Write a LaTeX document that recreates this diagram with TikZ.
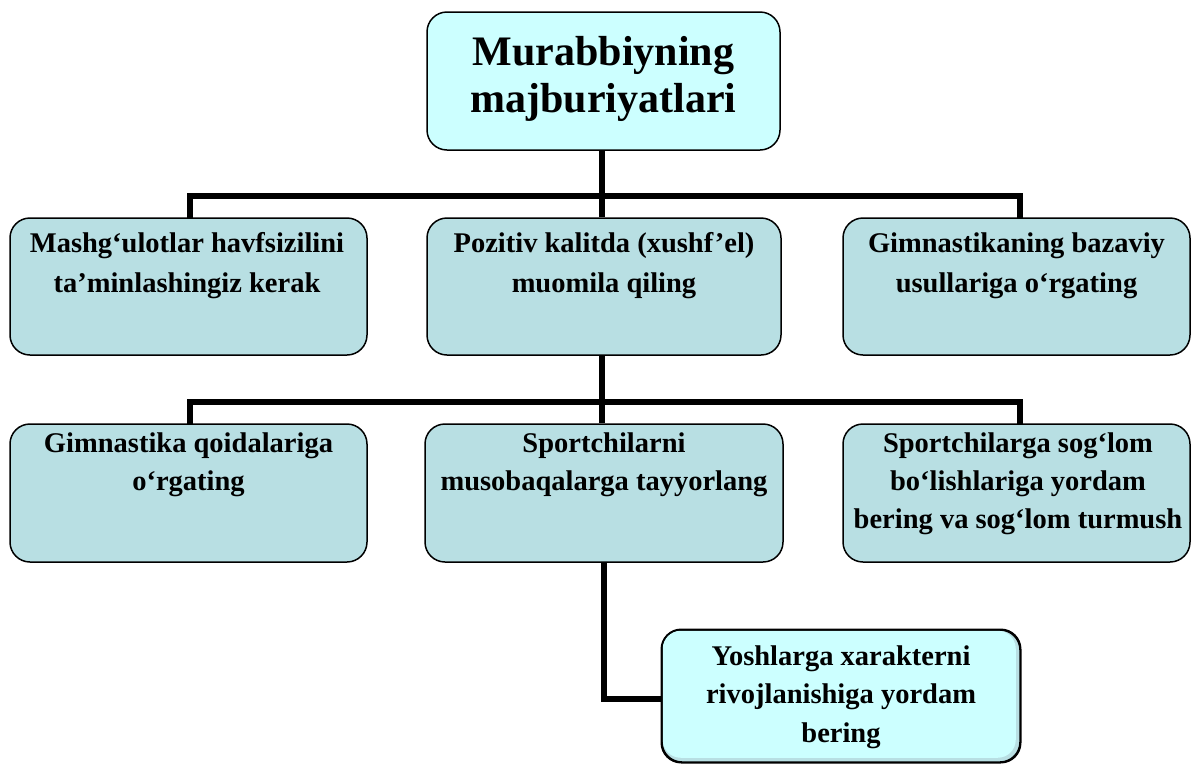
\documentclass[tikz,border=0pt]{standalone}
\usepackage{fontspec}
\setmainfont{Liberation Serif}
\definecolor{topcyan}{HTML}{CCFFFF}
\definecolor{boxblue}{HTML}{B8DFE3}
\begin{document}
\begin{tikzpicture}[x=1pt,y=-1pt,
  box/.style={draw=black, line width=1.5pt, rounded corners=20pt, inner sep=0pt},
  conn/.style={line width=6pt, line join=miter},
  txt/.style={anchor=base, align=center, inner sep=0pt, font=\bfseries\fontsize{28.5}{40}\selectfont}]
\useasboundingbox (0,0) rectangle (1192,764);
% boxes
\node[box, fill=topcyan, minimum width=353pt, minimum height=138pt] (top) at (603.5,81) {};
\node[box, fill=boxblue, minimum width=357pt, minimum height=137pt] (r1a) at (188.5,286.5) {};
\node[box, fill=boxblue, minimum width=354pt, minimum height=137pt] (r1b) at (604,286.5) {};
\node[box, fill=boxblue, minimum width=347pt, minimum height=137pt] (r1c) at (1016.5,286.5) {};
\node[box, fill=boxblue, minimum width=357pt, minimum height=138pt] (r2a) at (188.5,493) {};
\node[box, fill=boxblue, minimum width=358pt, minimum height=138pt] (r2b) at (604,493) {};
\node[box, fill=boxblue, minimum width=347pt, minimum height=138pt] (r2c) at (1016.5,493) {};
\node[box, fill=boxblue, minimum width=358pt, minimum height=132pt] (b4) at (841,696) {};
\fill[topcyan, rounded corners=18pt] ([shift={(1.5,1.5)}]b4.north west) rectangle ([shift={(-5,-5)}]b4.south east);
\draw[line width=1.5pt, rounded corners=20pt] (b4.north west) rectangle (b4.south east);
% connectors
\coordinate (bus1) at (602,196);
\coordinate (bus2) at (602,402);
\coordinate (bend) at (604,699);
\draw[conn] (top.south -| bus1) -- (r1b.north -| bus1);
\draw[conn] (190,218) |- (bus1) -| (1020,218);
\draw[conn] (r1b.south -| bus2) -- (r2b.north -| bus2);
\draw[conn] (190,424) |- (bus2) -| (1020,424);
\draw[conn] (r2b.south -| bend) -- (bend) -- (b4.west |- bend);
% texts (anchor = baseline of last line)
\node[txt, font=\bfseries\fontsize{42}{47}\selectfont] (ttop) at (603.5,112) {Murabbiyning\\majburiyatlari};
\node[txt] (t1a) at (187,292) {Mashg‘ulotlar havfsizilini\\ta’minlashingiz kerak};
\node[txt] (t1b) at (604,292) {Pozitiv kalitda (xushf’el)\\muomila qiling};
\node[txt] (t1c) at (1016.5,292) {Gimnastikaning bazaviy\\usullariga o‘rgating};
\node[txt, font=\bfseries\fontsize{28.5}{38}\selectfont] (t2a) at (188.5,490) {Gimnastika qoidalariga\\o‘rgating};
\node[txt, font=\bfseries\fontsize{28.5}{38}\selectfont] (t2b) at (604,490) {Sportchilarni\\musobaqalarga tayyorlang};
\node[txt, font=\bfseries\fontsize{28.5}{38}\selectfont] (t2c) at (1018,528) {Sportchilarga sog‘lom\\bo‘lishlariga yordam\\bering va sog‘lom turmush};
\node[txt, font=\bfseries\fontsize{28.5}{38.5}\selectfont] (t4) at (841,742) {Yoshlarga xarakterni\\rivojlanishiga yordam\\bering};
\end{tikzpicture}
\end{document}
